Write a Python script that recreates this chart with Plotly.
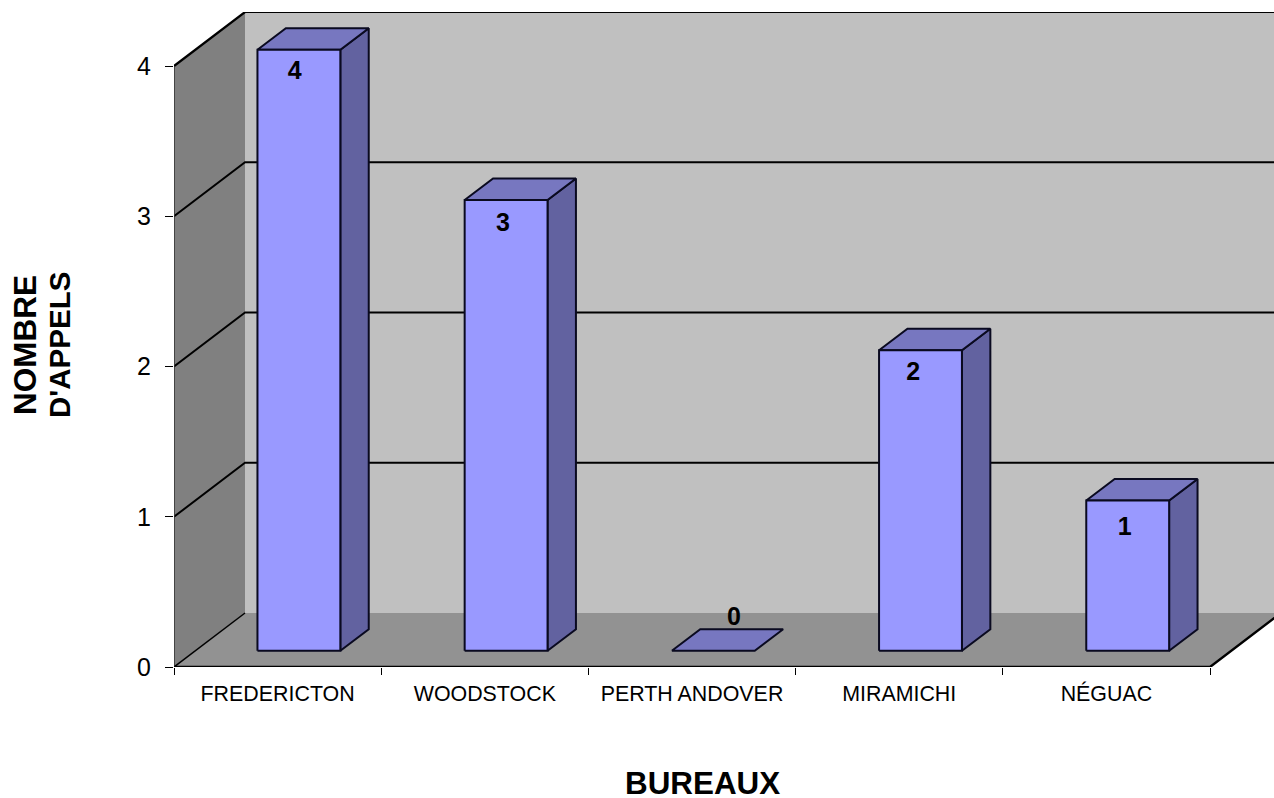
import plotly.graph_objects as go

categories = ["FREDERICTON", "WOODSTOCK", "PERTH ANDOVER", "MIRAMICHI", "NÉGUAC"]
values = [4, 3, 0, 2, 1]
y_ticks = [0, 1, 2, 3, 4]
label_nudge = [(-0.02, -0.155), (-0.015, -0.165), (0.10, 0.215), (-0.035, -0.155), (-0.015, -0.19)]

# Oblique projection: one unit of depth shifts a point by these axis amounts
DEPTH_X = 71 / 207.2
DEPTH_Y = 54 / 150.25
GAP = 0.3
X_MAX = 1100 / 207.2
Y_MAX = 655 / 150.25
N = len(categories)
V_MAX = max(y_ticks)

WALL = "#c0c0c0"
SIDE = "#808080"
FLOOR = "#929292"
FRONT = "#9999ff"
TOP = "#7777c0"
RIGHT = "#6262a0"
EDGE = "#0a0a20"


def proj(x, v, d):
    return x + d * DEPTH_X, v + d * DEPTH_Y


def poly(points, fill, line_color=None, line_width=0):
    xs = [p[0] for p in points] + [points[0][0]]
    ys = [p[1] for p in points] + [points[0][1]]
    return go.Scatter(x=xs, y=ys, mode="lines", fill="toself", fillcolor=fill,
                      line=dict(color=line_color or fill, width=line_width),
                      hoverinfo="skip", showlegend=False)


def path(points, width=2, color="#000000"):
    return go.Scatter(x=[p[0] for p in points], y=[p[1] for p in points], mode="lines",
                      line=dict(color=color, width=width), hoverinfo="skip", showlegend=False)


fig = go.Figure()

# Walls and floor
far = N + 1
fig.add_trace(poly([proj(0, 0, 1), proj(far, 0, 1), proj(far, V_MAX, 1), proj(0, V_MAX, 1)], WALL))
fig.add_trace(poly([proj(0, 0, 0), proj(0, 0, 1), proj(0, V_MAX, 1), proj(0, V_MAX, 0)], SIDE))
fig.add_trace(poly([proj(0, 0, 0), proj(N, 0, 0), proj(N, 0, 1), proj(0, 0, 1)], FLOOR))

# Gridlines
for v in y_ticks[1:-1]:
    fig.add_trace(path([proj(0, v, 0), proj(0, v, 1), proj(far, v, 1)], 2))
fig.add_trace(path([proj(0, 0, 0), proj(0, 0, 1)], 1.5))
fig.add_trace(path([proj(0, V_MAX, 0), proj(0, V_MAX, 1), proj(far, V_MAX, 1)], 2.2))
fig.add_trace(path([proj(0, 0, 0), proj(0, V_MAX, 0)], 1.5, "#303030"))
fig.add_trace(path([proj(0, 0, 0), proj(N, 0, 0), proj(N, 0, 1)], 2.4))

# Bars
bar_w = 1 - 2 * GAP
for i, v in enumerate(values):
    x0, x1 = i + GAP, i + GAP + bar_w
    d0, d1 = GAP, 1 - GAP
    if v > 0:
        fig.add_trace(poly([proj(x1, 0, d0), proj(x1, 0, d1), proj(x1, v, d1), proj(x1, v, d0)],
                           RIGHT, EDGE, 2))
    fig.add_trace(poly([proj(x0, v, d0), proj(x1, v, d0), proj(x1, v, d1), proj(x0, v, d1)],
                       TOP, EDGE, 2))
    if v > 0:
        fig.add_trace(poly([proj(x0, 0, d0), proj(x1, 0, d0), proj(x1, v, d0), proj(x0, v, d0)],
                           FRONT, EDGE, 2))

# Value labels
lx, ly = [], []
for i, v in enumerate(values):
    px, py = proj(i + 0.5, v, GAP)
    lx.append(px + label_nudge[i][0])
    ly.append(py + label_nudge[i][1])
fig.add_trace(go.Scatter(x=lx, y=ly, mode="text", text=[str(v) for v in values],
                         textposition="middle center",
                         textfont=dict(family="Liberation Sans", size=25, color="#000000"),
                         texttemplate="<b>%{text}</b>", hoverinfo="skip", showlegend=False))


def title_font(size):
    return dict(family="Liberation Sans", size=size, color="#000000")


fig.update_layout(
    width=1274, height=798,
    margin=dict(l=174, r=0, t=12, b=131),
    paper_bgcolor="#ffffff", plot_bgcolor="#ffffff",
    showlegend=False,
    font=dict(family="Liberation Sans", color="#000000"),
    xaxis=dict(
        range=[0, X_MAX], showgrid=False, zeroline=False, showline=False,
        tickmode="array", tickvals=[i + 0.5 for i in range(N)], ticktext=categories,
        ticks="outside", ticklen=7, tickcolor="rgba(0,0,0,0)",
        tickfont=dict(size=21.4), tickangle=0,
        minor=dict(tickmode="array", tickvals=list(range(N + 1)), ticks="outside",
                   ticklen=7, tickcolor="#000000", tickwidth=1.2, showgrid=False),
    ),
    yaxis=dict(
        range=[0, Y_MAX], showgrid=False, zeroline=False, showline=False,
        tickmode="array", tickvals=y_ticks, ticktext=[str(t) for t in y_ticks],
        ticks="outside", ticklen=8, tickcolor="#000000", tickwidth=1.2,
        tickfont=dict(size=25), ticklabelstandoff=9,
    ),
    annotations=[
        dict(text="<b>BUREAUX</b>", xref="paper", yref="paper", x=528 / 1100, y=-116 / 655,
             showarrow=False, font=title_font(31.4), xanchor="center", yanchor="middle"),
        dict(text="<b>NOMBRE</b>", xref="paper", yref="paper", x=-149 / 1100, y=322 / 655,
             showarrow=False, font=title_font(31.5), textangle=-90, xanchor="center", yanchor="middle"),
        dict(text="<b>D'APPELS</b>", xref="paper", yref="paper", x=-114 / 1100, y=322 / 655,
             showarrow=False, font=title_font(29.5), textangle=-90, xanchor="center", yanchor="middle"),
    ],
)
fig.write_html("out.html", config={"displayModeBar": False},
               post_script="document.body.style.margin='0';document.body.style.overflow='hidden';")
